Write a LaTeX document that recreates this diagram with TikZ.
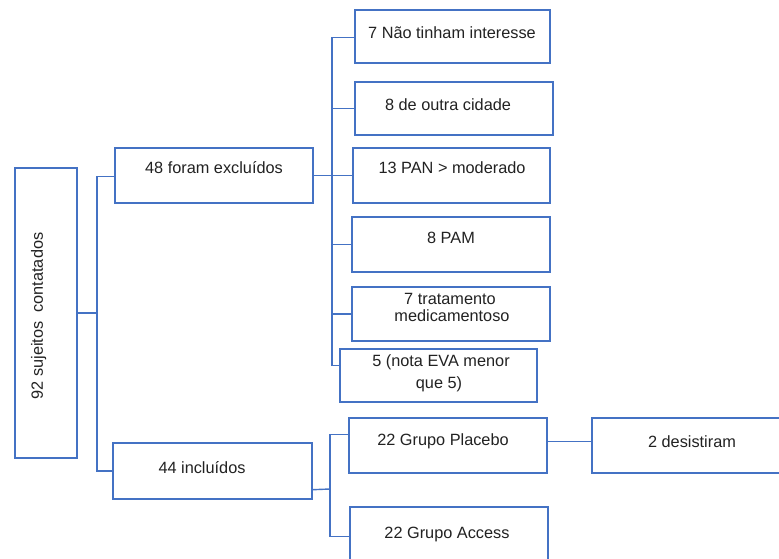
\documentclass[tikz,border=0pt]{standalone}
\usepackage{fontspec}
\setmainfont{Liberation Sans}
\usetikzlibrary{calc}
\definecolor{boxblue}{HTML}{4472C4}
\definecolor{txt}{HTML}{222222}
\begin{document}
\begin{tikzpicture}[x=1pt,y=-1pt,
  box/.style={draw=boxblue,line width=1.4pt,rectangle,inner sep=0pt,fill=white},
  lbl/.style={text=txt,font=\fontsize{16.3}{17}\selectfont,inner sep=0pt,text height=11.7pt,text depth=0pt,align=center},
  conn/.style={draw=boxblue,line width=1.4pt}]
\clip (0,0) rectangle (779,559);
\fill[white] (0,0) rectangle (779,559);
% boxes
\node[box,minimum width=62pt,minimum height=290pt] (root) at (46,313) {};
\node[box,minimum width=198pt,minimum height=55pt] (b48) at (214,175.5) {};
\node[box,minimum width=199pt,minimum height=56pt] (b44) at (212.5,471) {};
\node[box,minimum width=195pt,minimum height=53pt] (e1) at (452.5,36.5) {};
\node[box,minimum width=198pt,minimum height=53pt] (e2) at (454,108.5) {};
\node[box,minimum width=197pt,minimum height=55pt] (e3) at (451.5,175.5) {};
\node[box,minimum width=198pt,minimum height=55pt] (e4) at (451,244.5) {};
\node[box,minimum width=198pt,minimum height=54pt] (e5) at (451,314) {};
\node[box,minimum width=197pt,minimum height=53pt] (e6) at (438.5,375.5) {};
\node[box,minimum width=198pt,minimum height=55pt] (pl) at (448,445.5) {};
\node[box,minimum width=188pt,minimum height=55pt] (de) at (686,445.5) {};
\node[box,minimum width=198pt,minimum height=60pt] (ac) at (449,537) {};
% texts
\node[lbl,rotate=90] (troot) at (37,316) {92 sujeitos\ \ contatados};
\node[lbl] (t48) at (214,168) {48 foram excluídos};
\node[lbl] (t44) at (202,468) {44 incluídos};
\node[lbl] (te1) at (452,33) {7 Não tinham interesse};
\node[lbl] (te2) at (448,105) {8 de outra cidade};
\node[lbl] (te3) at (452,168) {13 PAN > moderado};
\node[lbl] (te4) at (451,238) {8 PAM};
\node[lbl] (te5a) at (450,299) {7 tratamento};
\node[lbl] (te5b) at (452,316) {medicamentoso};
\node[lbl] (te6a) at (441,361) {5 (nota EVA menor};
\node[lbl] (te6b) at (439,383) {que 5)};
\node[lbl] (tpl) at (443,440) {22 Grupo Placebo};
\node[lbl] (tde) at (692,442) {2 desistiram};
\node[lbl] (tac) at (447,533) {22 Grupo Access};
% connectors: root
\coordinate (j1) at (97,313);
\draw[conn] (root.east) -- (j1);
\draw[conn] ($(b48.north west)+(0,29)$) -| (j1) |- (b44.west);
% excluded branch
\coordinate (j2) at (332,175.5);
\draw[conn] (b48.east) -- (j2);
\draw[conn] ($(e1.north west)+(0,28)$) -| (j2);
\draw[conn] (e2.west) -| (j2);
\draw[conn] (e3.west) -- (j2);
\draw[conn] (e4.west) -| (j2);
\draw[conn] (e5.west) -| (j2);
\draw[conn] ($(e6.north west)+(0,17)$) -| (j2);
% included branch
\coordinate (j3) at (330,489);
\draw[conn] ($(b44.south east)+(0,-10)$) -- (j3);
\draw[conn] ($(pl.north west)+(0,17)$) -| (j3);
\draw[conn] ($(ac.north west)+(0,30)$) -| (j3);
\draw[conn] ($(pl.north east)+(0,24)$) -- ($(de.north west)+(0,24)$);
\end{tikzpicture}
\end{document}
